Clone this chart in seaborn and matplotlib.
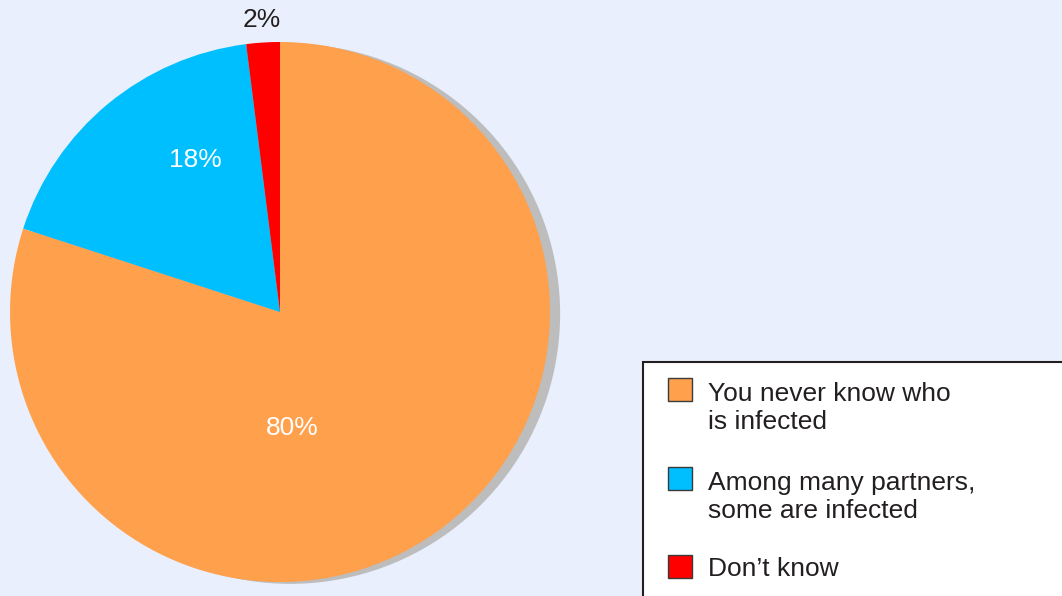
import matplotlib
matplotlib.use("Agg")
import matplotlib.pyplot as plt
from matplotlib.patches import Rectangle
import seaborn as sns

# data
categories = ["You never know who\nis infected", "Among many partners,\nsome are infected", "Don\u2019t know"]
shares = [80, 18, 2]
pct_labels = ["80%", "18%", "2%"]
colors = ["#FFA04D", "#00BFFF", "#FF0000"]
label_colors = ["white", "white", "#231F20"]
# label positions in pie units (radius 1)
label_xy = [(0.045, -0.43), (-0.315, 0.563), (-0.067, 1.08)]

bg = "#E9EFFC"
dark = "#231F20"

sns.set_theme(style="white")
plt.rcParams["font.family"] = ["Liberation Sans", "DejaVu Sans"]

W, H = 1062, 596
fig = plt.figure(figsize=(W / 100, H / 100), dpi=100, facecolor=bg)

# pie: centre (280, 312) px, radius 270 px
ax = fig.add_axes([10 / W, 14 / H, 540 / W, 540 / H])
ax.set_facecolor(bg)
# shadow offset is in data units scaled by dpi/72
ax.pie(shares, colors=colors, startangle=90, counterclock=False, radius=1,
       wedgeprops={"linewidth": 0},
       shadow={"ox": 0.027, "oy": -0.005, "facecolor": "#BDBDBD",
               "edgecolor": "none", "alpha": 1})
for p in ax.patches:
    p.set_clip_on(False)
ax.set_xlim(-1, 1)
ax.set_ylim(-1, 1)
ax.axis("off")

for (x, y), txt, c in zip(label_xy, pct_labels, label_colors):
    ax.text(x, y, txt, color=c, fontsize=19, ha="center", va="center")

# legend box (runs off the right and bottom edges)
fig.add_artist(Rectangle((643 / W, -0.1), 1, (H - 362) / H + 0.1,
                         transform=fig.transFigure, facecolor="white",
                         edgecolor=dark, linewidth=1.5, clip_on=False))

square_tops = [378, 467, 555]
line_step = 30
for top, name, c in zip(square_tops, categories, colors):
    fig.add_artist(Rectangle((668 / W, (H - top - 23) / H), 24 / W, 23 / H,
                             transform=fig.transFigure, facecolor=c,
                             edgecolor="#3A3A3A", linewidth=1))
    # baseline of the last line of the label
    last_base = top + 21 + line_step * name.count("\n")
    fig.text(708 / W, (H - last_base) / H, name, fontsize=19, color=dark,
             ha="left", va="baseline", linespacing=1.22)

fig.savefig("out.png", dpi=100, facecolor=bg)
